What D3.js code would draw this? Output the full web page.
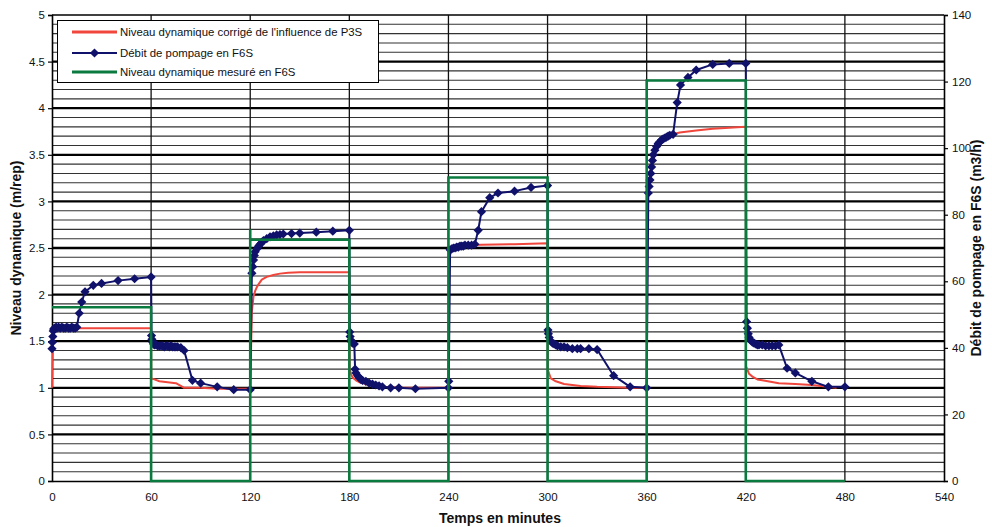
<!DOCTYPE html>
<html>
<head>
<meta charset="utf-8">
<script src="https://cdn.jsdelivr.net/npm/d3@7"></script>
<style>
  html, body { margin: 0; padding: 0; background: #fff; }
  svg { display: block; }
  text { font-family: "Liberation Sans", Arial, sans-serif; fill: #111; }
</style>
</head>
<body>
<svg id="chart" width="992" height="527"></svg>
<script>
// Time axis (minutes) and the two value axes
const timeTicks = [0, 60, 120, 180, 240, 300, 360, 420, 480, 540];
const levelTicks = [0, 0.5, 1, 1.5, 2, 2.5, 3, 3.5, 4, 4.5, 5];
const flowTicks = [0, 20, 40, 60, 80, 100, 120, 140];

const seriesNames = [
  "Niveau dynamique corrigé de l'influence de P3S",
  "Débit de pompage en F6S",
  "Niveau dynamique mesuré en F6S"
];

// Corrected dynamic level (m), [minutes, value]
const niveauCorrige = [
  [0, 1.00], [0.5, 1.45], [1, 1.60], [2, 1.63], [5, 1.64], [60, 1.64],
  [60.1, 1.10], [62, 1.09], [65, 1.07], [70, 1.06], [75, 1.05], [78, 1.02], [80, 1.00],
  [90, 1.00], [100, 0.99], [110, 0.99], [120, 0.99],
  [121, 1.82], [122, 1.98], [123, 2.04], [124, 2.08], [125, 2.11], [127, 2.16], [130, 2.19],
  [134, 2.21], [138, 2.225], [143, 2.235], [150, 2.24], [180, 2.24],
  [180.2, 1.20], [181, 1.15], [182, 1.11], [184, 1.08], [186, 1.06], [190, 1.04], [195, 1.02],
  [200, 1.01], [210, 1.00], [240, 1.00],
  [240.5, 2.40], [242, 2.48], [245, 2.51], [250, 2.53], [260, 2.535], [280, 2.54], [300, 2.55],
  [300.2, 1.19], [302, 1.10], [305, 1.07], [310, 1.04], [315, 1.03], [320, 1.02], [330, 1.01],
  [340, 1.005], [350, 1.00], [360, 1.00],
  [360.5, 3.05], [362, 3.25], [364, 3.45], [366, 3.57], [368, 3.63], [370, 3.66], [373, 3.69],
  [376, 3.72], [380, 3.74], [390, 3.76], [400, 3.78], [410, 3.79], [420, 3.80],
  [420.2, 1.23], [422, 1.15], [424, 1.12], [427, 1.09], [430, 1.08], [440, 1.05], [450, 1.04],
  [460, 1.03], [470, 1.01], [475, 1.00]
];

// Pumping series with diamond markers, [minutes, value]
const debitPompage = [
  [0, 1.42], [0.25, 1.49], [0.5, 1.55], [0.75, 1.61], [1, 1.63], [1.5, 1.64], [2, 1.64],
  [2.5, 1.65], [3, 1.64], [4, 1.65], [5, 1.64], [6, 1.65], [7, 1.64], [8, 1.64], [9, 1.65],
  [10, 1.64], [11, 1.64], [12, 1.65], [13, 1.64], [14, 1.64], [15, 1.65],
  [16.5, 1.80], [18, 1.92], [20, 2.03], [25, 2.10], [30, 2.12], [40, 2.15], [50, 2.17], [60, 2.19],
  [60.25, 1.56], [60.5, 1.52], [61, 1.49], [61.5, 1.47], [62, 1.46], [63, 1.46], [64, 1.45],
  [65, 1.45], [66, 1.45], [67, 1.45], [68, 1.44], [69, 1.45], [70, 1.45], [71, 1.44], [72, 1.45],
  [73, 1.44], [74, 1.44], [75, 1.44], [76, 1.44], [78, 1.43], [80, 1.40],
  [85, 1.08], [90, 1.05], [100, 1.01], [110, 0.98], [120, 0.98],
  [121, 2.23], [121.5, 2.30], [122, 2.37], [122.5, 2.42], [123, 2.46], [124, 2.49], [125, 2.52],
  [126, 2.54], [127, 2.56], [128, 2.58], [130, 2.60], [132, 2.62], [134, 2.63], [136, 2.64],
  [138, 2.645], [140, 2.65], [145, 2.655], [150, 2.66], [160, 2.67], [170, 2.68], [180, 2.69],
  [180.25, 1.60], [180.5, 1.55], [181, 1.51], [181.5, 1.49], [182, 1.48], [183, 1.47],
  [183.5, 1.20], [184, 1.16], [185, 1.13], [186, 1.11], [187, 1.09], [188, 1.08], [190, 1.07],
  [192, 1.05], [194, 1.04], [196, 1.03], [198, 1.02], [200, 1.01], [205, 1.00], [210, 1.00],
  [220, 0.99], [240, 1.00], [240.2, 1.07],
  [241, 2.48], [242, 2.49], [243, 2.50], [244, 2.50], [245, 2.51], [246, 2.51], [247, 2.52],
  [248, 2.52], [249, 2.52], [250, 2.53], [252, 2.53], [254, 2.53], [256, 2.54],
  [258, 2.69], [260, 2.89], [265, 3.04], [270, 3.09], [280, 3.11], [290, 3.15], [300, 3.17],
  [300.25, 1.62], [300.5, 1.58], [301, 1.54], [302, 1.50], [303, 1.48], [304, 1.47], [305, 1.46],
  [306, 1.45], [308, 1.44], [310, 1.44], [312, 1.43], [315, 1.42], [318, 1.42], [320, 1.42],
  [325, 1.42], [330, 1.41], [340, 1.13], [350, 1.01], [360, 1.00],
  [361, 3.09], [361.5, 3.16], [362, 3.23], [362.5, 3.30], [363, 3.37], [363.5, 3.44], [364, 3.50],
  [365, 3.55], [366, 3.59], [367, 3.62], [368, 3.64], [369, 3.66], [370, 3.67], [371, 3.68],
  [372, 3.69], [373, 3.70], [374, 3.71], [376, 3.72],
  [378.5, 4.06], [380.5, 4.25], [385, 4.33], [390, 4.41], [400, 4.47], [410, 4.48], [420, 4.48],
  [420.5, 1.71], [421, 1.64], [421.5, 1.58], [422, 1.54], [423, 1.51], [424, 1.49], [425, 1.48],
  [426, 1.47], [427, 1.46], [428, 1.46], [430, 1.46], [432, 1.45], [434, 1.45], [436, 1.45],
  [438, 1.45], [440, 1.46], [445, 1.21], [450, 1.16], [460, 1.07], [470, 1.01], [480, 1.01]
];

// Step series on the secondary axis (m3/h), [minutes, value]
const niveauMesure = [
  [0, 52.2], [60, 52.2], [60, 0], [120, 0],
  [120, 75.6], [120, 72.5], [180, 72.5], [180, 0], [240, 0],
  [240, 91.2], [300, 91.2], [300, 0], [360, 0],
  [360, 120.3], [420, 120.3], [420, 0], [480, 0]
];

const colors = { red: "#f0463c", navy: "#10116a", green: "#0b7a3e" };

const svg = d3.select("#chart");
const plot = { left: 52, right: 944, top: 15, bottom: 481 };

const x = d3.scaleLinear().domain([0, 540]).range([plot.left, plot.right]);
const yL = d3.scaleLinear().domain([0, 5]).range([plot.bottom, plot.top]);
const yR = d3.scaleLinear().domain([0, 140]).range([plot.bottom, plot.top]);

// Horizontal grid: fine lines every 0.1 m, heavy lines every 0.5 m
const fine = yL.ticks(50);
const grid = svg.append("g");
grid.selectAll("line.fine")
  .data(fine.filter(v => Math.abs(v * 2 - Math.round(v * 2)) > 1e-6))
  .join("line")
  .attr("x1", plot.left).attr("x2", plot.right)
  .attr("y1", d => yL(d)).attr("y2", d => yL(d))
  .attr("stroke", "#333").attr("stroke-width", 1.1);
grid.selectAll("line.major")
  .data(levelTicks.filter(v => v > 0))
  .join("line")
  .attr("x1", plot.left).attr("x2", plot.right)
  .attr("y1", d => yL(d)).attr("y2", d => yL(d))
  .attr("stroke", "#000").attr("stroke-width", d => d === 5 ? 1.4 : 2.3);

// Vertical grid every 60 minutes
grid.selectAll("line.v")
  .data(timeTicks.filter(t => t > 0 && t < 540))
  .join("line")
  .attr("x1", d => x(d)).attr("x2", d => x(d))
  .attr("y1", plot.top).attr("y2", plot.bottom)
  .attr("stroke", "#111").attr("stroke-width", 1.3);

// Axes
const xAxis = svg.append("g")
  .attr("transform", `translate(0,${plot.bottom})`)
  .call(d3.axisBottom(x).tickValues(timeTicks).tickSize(0).tickPadding(12));
const lAxis = svg.append("g")
  .attr("transform", `translate(${plot.left},0)`)
  .call(d3.axisLeft(yL).tickValues(levelTicks).tickFormat(d3.format("~g")).tickSize(4).tickPadding(3));
const rAxis = svg.append("g")
  .attr("transform", `translate(${plot.right},0)`)
  .call(d3.axisRight(yR).tickValues(flowTicks).tickSize(4).tickPadding(4));

[xAxis, lAxis, rAxis].forEach(g => {
  g.select(".domain").attr("stroke", "#000").attr("stroke-width", 1.6);
  g.selectAll(".tick line").attr("stroke", "#000").attr("stroke-width", 1.2);
  g.selectAll(".tick text")
    .attr("font-family", "Liberation Sans, Arial, sans-serif")
    .attr("font-size", 11.5).attr("fill", "#111");
});

// Axis titles
svg.append("text")
  .attr("x", (plot.left + plot.right) / 2 + 2).attr("y", 523)
  .attr("text-anchor", "middle").attr("font-weight", "bold").attr("font-size", 14)
  .text("Temps en minutes");
svg.append("text")
  .attr("transform", `translate(21,${(plot.top + plot.bottom) / 2}) rotate(-90)`)
  .attr("text-anchor", "middle").attr("font-weight", "bold").attr("font-size", 14)
  .text("Niveau dynamique (m/rep)");
svg.append("text")
  .attr("transform", `translate(981,${(plot.top + plot.bottom) / 2}) rotate(-90)`)
  .attr("text-anchor", "middle").attr("font-weight", "bold").attr("font-size", 14)
  .text("Débit de pompage en F6S (m3/h)");

// Series
const lineL = d3.line().x(d => x(d[0])).y(d => yL(d[1]));
const lineR = d3.line().x(d => x(d[0])).y(d => yR(d[1]));
const diamond = r => `M0,${-r}L${r},0L0,${r}L${-r},0Z`;

svg.append("path").datum(niveauCorrige)
  .attr("d", lineL).attr("fill", "none")
  .attr("stroke", colors.red).attr("stroke-width", 2).attr("stroke-linejoin", "round");

svg.append("path").datum(debitPompage)
  .attr("d", lineL).attr("fill", "none")
  .attr("stroke", colors.navy).attr("stroke-width", 2).attr("stroke-linejoin", "round");
svg.append("g").selectAll("path")
  .data(debitPompage)
  .join("path")
  .attr("transform", d => `translate(${x(d[0])},${yL(d[1])})`)
  .attr("d", diamond(4.6))
  .attr("fill", colors.navy);

svg.append("path").datum(niveauMesure)
  .attr("d", lineR).attr("fill", "none")
  .attr("stroke", colors.green).attr("stroke-width", 2.6);

// Legend
const legend = svg.append("g");
legend.append("rect")
  .attr("x", 57.5).attr("y", 20.5).attr("width", 321).attr("height", 62)
  .attr("fill", "#fff").attr("stroke", "#000").attr("stroke-width", 1);
const rows = [32, 53, 72];
const legendColors = [colors.red, colors.navy, colors.green];
seriesNames.forEach((name, i) => {
  const g = legend.append("g").attr("transform", `translate(0,${rows[i]})`);
  g.append("line").attr("x1", 72).attr("x2", 117)
    .attr("stroke", legendColors[i]).attr("stroke-width", i === 1 ? 2 : 3);
  if (i === 1) g.append("path").attr("transform", "translate(94.5,0)")
    .attr("d", diamond(4.6)).attr("fill", colors.navy);
  g.append("text").attr("x", 120).attr("y", 4)
    .attr("font-size", 11.4).text(name);
});
</script>
</body>
</html>
